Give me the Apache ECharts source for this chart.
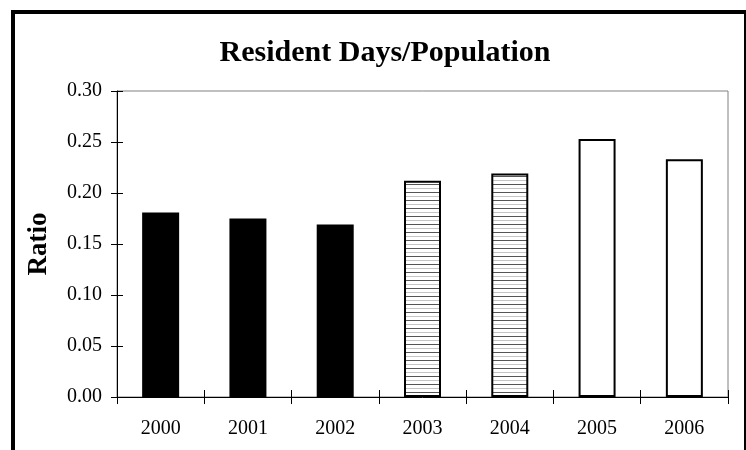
<!DOCTYPE html>
<html>
<head>
<meta charset="utf-8">
<style>
  html, body { margin: 0; padding: 0; background: #fff; }
  #chart { width: 746px; height: 450px; }
</style>
<script src="https://cdn.jsdelivr.net/npm/echarts@6/dist/echarts.min.js"></script>
</head>
<body>
<div id="chart"></div>
<script>
// Resident days per head of population, by year
const years = ['2000', '2001', '2002', '2003', '2004', '2005', '2006'];
const ratios = [0.181, 0.175, 0.169, 0.212, 0.219, 0.253, 0.233];
// fill style for each year: solid, striped, open
const fillKinds = ['solid', 'solid', 'solid', 'striped', 'striped', 'open', 'open'];
const yTicks = { min: 0, max: 0.30, step: 0.05 };

const FONT = '"Liberation Serif", "Times New Roman", serif';

// horizontal stripe tile
function stripeTile() {
  const c = document.createElement('canvas');
  c.width = 8; c.height = 8;
  const g = c.getContext('2d');
  g.fillStyle = '#ffffff';
  g.fillRect(0, 0, 8, 8);
  g.fillStyle = '#555555';
  g.fillRect(0, 0, 8, 1);
  g.fillStyle = '#c4c4c4';
  g.fillRect(0, 4, 8, 1);
  return c;
}
const stripes = { image: stripeTile(), repeat: 'repeat' };

function styleFor(kind) {
  if (kind === 'solid') return { color: '#000', borderColor: '#000', borderWidth: 0 };
  if (kind === 'striped') return { color: stripes, borderColor: '#000', borderWidth: 2 };
  return { color: '#fff', borderColor: '#000', borderWidth: 2 };
}

const chart = echarts.init(document.getElementById('chart'), null, { renderer: 'canvas' });

const labelFont = { fontFamily: FONT, fontSize: 20, color: '#000' };

chart.setOption({
  animation: false,
  backgroundColor: '#fff',
  title: {
    text: 'Resident Days/Population',
    left: 380,
    top: 33,
    textAlign: 'center',
    textStyle: { fontFamily: FONT, fontWeight: 'bold', fontSize: 30, color: '#000' }
  },
  grid: {
    left: 117, top: 91, width: 611, height: 306,
    show: true, borderColor: '#808080', borderWidth: 1, backgroundColor: 'transparent'
  },
  xAxis: [
    {
      type: 'category', data: years,
      axisLine: { lineStyle: { color: '#000', width: 1 } },
      axisTick: { show: true, length: 7, lineStyle: { color: '#000' } },
      axisLabel: Object.assign({ margin: 22 }, labelFont)
    },
    {
      type: 'category', data: years, position: 'bottom',
      axisLine: { show: false },
      axisTick: { show: true, inside: true, length: 7, lineStyle: { color: '#000' } },
      axisLabel: { show: false }
    }
  ],
  yAxis: [
    {
      type: 'value', min: yTicks.min, max: yTicks.max, interval: yTicks.step,
      name: 'Ratio', nameLocation: 'middle', nameGap: 64, nameRotate: 90,
      nameTextStyle: { fontFamily: FONT, fontWeight: 'bold', fontSize: 27, color: '#000' },
      axisLine: { show: true, lineStyle: { color: '#000', width: 1 } },
      axisTick: { show: true, length: 6, lineStyle: { color: '#000' } },
      splitLine: { show: false },
      axisLabel: Object.assign({ margin: 15, formatter: v => v.toFixed(2) }, labelFont)
    },
    {
      type: 'value', min: yTicks.min, max: yTicks.max, interval: yTicks.step, position: 'left',
      axisLine: { show: false },
      axisTick: { show: true, inside: true, length: 6, lineStyle: { color: '#000' } },
      splitLine: { show: false },
      axisLabel: { show: false }
    }
  ],
  graphic: [
    {
      type: 'rect', silent: true, z: 100,
      shape: { x: 13, y: 12, width: 733, height: 460 },
      style: { fill: 'none', stroke: '#000', lineWidth: 4 }
    }
  ],
  series: [
    {
      type: 'bar', xAxisIndex: 0, yAxisIndex: 0,
      barWidth: 37,
      data: ratios.map((v, i) => ({ value: v, itemStyle: styleFor(fillKinds[i]) }))
    }
  ]
});
</script>
</body>
</html>
